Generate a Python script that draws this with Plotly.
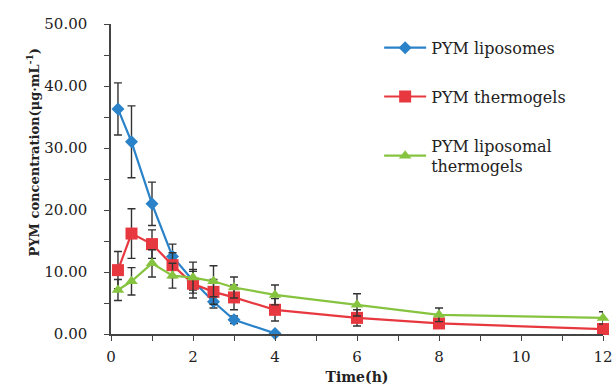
import plotly.graph_objects as go

# Sampling times (h)
t_lipo = [0.17, 0.5, 1, 1.5, 2, 2.5, 3, 4]
t_gel = [0.17, 0.5, 1, 1.5, 2, 2.5, 3, 4, 6, 8, 12]

# Mean plasma concentration (ug/mL) and SD for each formulation
lipo_mean = [36.3, 31.0, 21.0, 12.5, 8.6, 5.2, 2.3, 0.1]
lipo_sd = [4.2, 5.8, 3.5, 2.0, 1.5, 1.0, 0.6, 0.2]

gel_mean = [10.3, 16.2, 14.5, 11.1, 8.1, 6.8, 5.9, 3.9, 2.6, 1.7, 0.8]
gel_sd = [3.0, 4.0, 2.3, 2.0, 2.3, 2.0, 2.0, 1.8, 1.3, 0.6, 0.3]

lipgel_mean = [7.1, 8.5, 11.4, 9.4, 9.1, 8.5, 7.5, 6.3, 4.7, 3.1, 2.6]
lipgel_sd = [1.7, 2.2, 2.2, 2.0, 2.5, 2.5, 1.7, 1.6, 1.8, 1.1, 1.0]

names = ["PYM liposomes", "PYM thermogels", "PYM liposomal<br>thermogels"]
colors = ["#2a82c8", "#e8383f", "#86c440"]
symbols = ["diamond", "square", "triangle-up"]
msizes = [10, 12, 11]

FONT = "DejaVu Serif"
AX = "#444444"

fig = go.Figure()
series = [(t_lipo, lipo_mean, lipo_sd), (t_gel, gel_mean, gel_sd), (t_gel, lipgel_mean, lipgel_sd)]
for i, (t, m, sd) in enumerate(series):
    fig.add_trace(go.Scatter(
        x=t, y=m, name=names[i], mode="lines+markers",
        line=dict(color=colors[i], width=2.2),
        marker=dict(symbol=symbols[i], size=msizes[i], color=colors[i]),
        error_y=dict(type="data", array=sd, visible=True, color="#333333",
                     thickness=1.4, width=4),
        cliponaxis=False, legendgroup=f"g{i}",
    ))

fig.update_layout(
    width=613, height=389,
    margin=dict(l=111, r=10, t=24, b=55),
    plot_bgcolor="white", paper_bgcolor="white",
    font=dict(family=FONT, color="#222222"),
    showlegend=True,
    legend=dict(x=0.545, y=0.978, xanchor="left", yanchor="top",
                font=dict(family=FONT, size=16, color="#222222"),
                itemwidth=42,
                tracegroupgap=25, bgcolor="rgba(0,0,0,0)"),
    xaxis=dict(
        range=[0, 12], tickmode="array", tickvals=[0, 2, 4, 6, 8, 10, 12],
        ticktext=["0", "2", "4", "6", "8", "10", "12"],
        ticks="outside", ticklen=5, tickcolor=AX,
        minor=dict(tickvals=[1, 3, 5, 7, 9, 11], ticks="outside", ticklen=5, tickcolor=AX),
        showline=True, linecolor=AX, linewidth=1.5,
        showgrid=False, zeroline=False, automargin=False,
        tickfont=dict(family=FONT, size=15, color="#222222"),
        ticklabelstandoff=3,
        title=dict(text="<b>Time(h)</b>", font=dict(family=FONT, size=14, color="#222222"), standoff=7),
    ),
    yaxis=dict(
        range=[0, 50], dtick=10, tickformat=".2f",
        ticks="outside", ticklen=5, tickcolor=AX,
        minor=dict(dtick=5, ticks="outside", ticklen=5, tickcolor=AX),
        showline=True, linecolor=AX, linewidth=1.5,
        showgrid=False, zeroline=False, automargin=False,
        tickfont=dict(family=FONT, size=15, color="#222222"),
        ticklabelstandoff=14,
    ),
)

fig.add_annotation(
    text="<b>PYM concentration(μg·mL<sup>-1</sup>)</b>",
    xref="paper", yref="paper", x=-0.181, y=0.587,
    textangle=-90, showarrow=False,
    font=dict(family=FONT, size=13, color="#222222"),
)

fig.write_html("out.html")
